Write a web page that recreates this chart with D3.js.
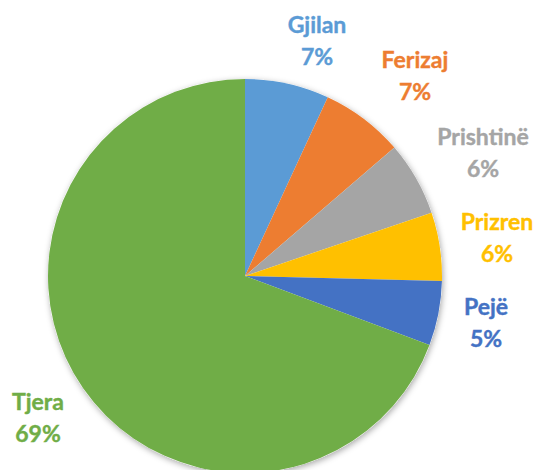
<!DOCTYPE html>
<html>
<head>
<meta charset="utf-8">
<script src="https://cdn.jsdelivr.net/npm/d3@7"></script>
<style>
  html, body { margin: 0; padding: 0; background: #fff; }
  svg { display: block; }
</style>
</head>
<body>
<svg id="chart" width="537" height="470"></svg>
<script>
const categories = ["Gjilan", "Ferizaj", "Prishtinë", "Prizren", "Pejë", "Tjera"];
const values = [6.9, 6.8, 6.1, 5.6, 5.3, 69.3];
const percentLabels = ["7%", "7%", "6%", "6%", "5%", "69%"];
const colors = ["#5B9BD5", "#ED7D31", "#A5A5A5", "#FFC000", "#4472C4", "#70AD47"];
// label anchor positions (centre x, baseline of first line)
const labelPos = [[317, 33], [415, 68], [483, 145], [497, 230], [486, 315], [38, 410]];

const svg = d3.select("#chart");
const cx = 245, cy = 276, r = 197;

const defs = svg.append("defs");
const f = defs.append("filter").attr("id", "sh").attr("x", "-10%").attr("y", "-10%").attr("width", "120%").attr("height", "120%");
f.append("feDropShadow").attr("dx", 1).attr("dy", 2).attr("stdDeviation", 3).attr("flood-color", "#000").attr("flood-opacity", 0.35);

const data = categories.map((c, i) => ({ name: c, value: values[i], pct: percentLabels[i], color: colors[i], pos: labelPos[i] }));

const pie = d3.pie().value(d => d.value).sort(null);
const arc = d3.arc().innerRadius(0).outerRadius(r);

const g = svg.append("g").attr("transform", `translate(${cx},${cy})`);
g.append("circle").attr("r", r).attr("fill", "#fff").attr("filter", "url(#sh)");
g.selectAll("path").data(pie(data)).join("path")
  .attr("d", arc)
  .attr("fill", d => d.data.color);

const labels = svg.append("g").selectAll("text").data(data).join("text")
  .attr("text-anchor", "middle")
  .attr("font-family", "Lato, 'Open Sans', sans-serif")
  .attr("font-weight", "bold")
  .attr("font-size", 23)
  .attr("fill", d => d.color)
  .attr("stroke", d => d.color)
  .attr("stroke-width", 0.4);
labels.append("tspan").attr("x", d => d.pos[0]).attr("y", d => d.pos[1]).text(d => d.name);
labels.append("tspan").attr("x", d => d.pos[0]).attr("y", d => d.pos[1] + 32).text(d => d.pct);
</script>
</body>
</html>
